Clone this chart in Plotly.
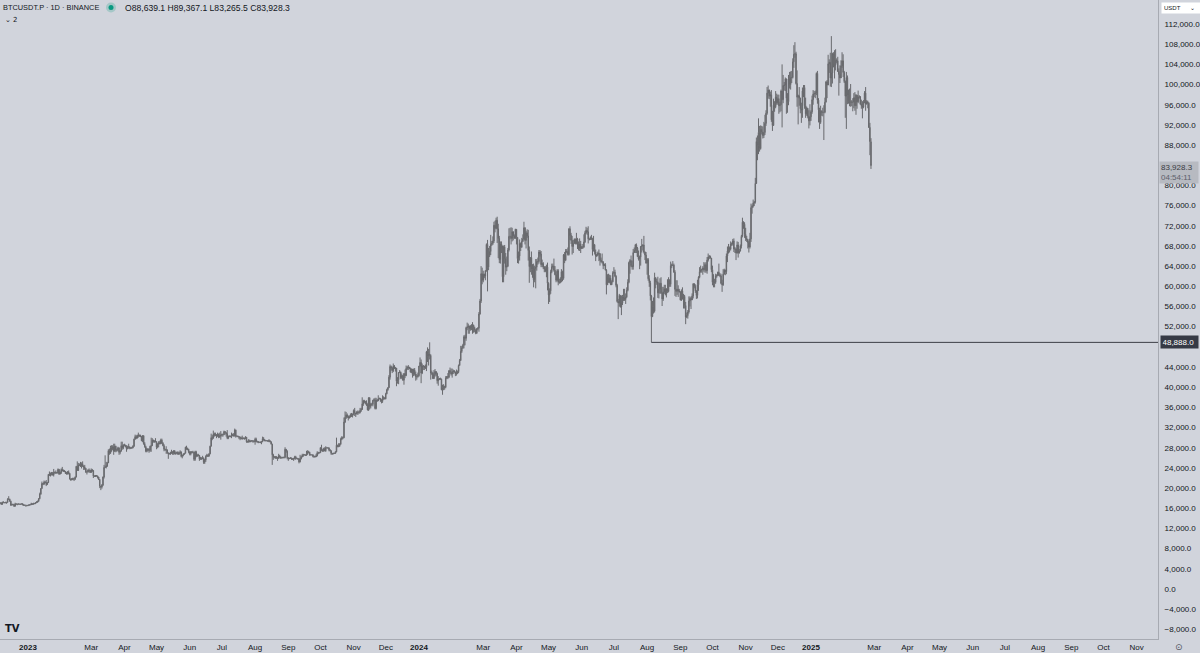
import pandas as pd
import plotly.graph_objects as go

# ---------------- data (BTCUSDT.P, 1D, Binance) — prices in thousands of USDT ----------------
start_date = "2022-12-05"
first_open = 17.1

close_k = [
    # Dec 2022 (from Dec 5)
    17.0,17.1,16.8,17.2,17.1,17.1,17.1,17.2,17.8,17.8,17.4,16.6,16.8,16.7,16.4,16.9,16.8,16.8,16.8,16.8,16.8,16.9,16.7,16.6,16.6,16.6,16.5,
    # Jan 2023
    16.6,16.7,16.7,16.9,16.8,17.0,16.9,17.1,17.2,17.4,17.9,18.8,19.9,20.9,20.8,21.2,21.1,20.7,21.1,22.7,22.8,22.7,22.9,22.6,23.1,23.0,23.1,23.0,23.7,22.8,23.1,
    # Feb 2023
    23.7,23.5,23.4,23.3,22.9,22.8,23.2,22.9,21.8,21.6,21.9,21.8,21.8,22.2,24.3,23.5,24.6,24.6,24.3,24.8,24.4,24.2,23.9,23.2,23.2,23.6,23.5,23.1,
    # Mar 2023
    23.6,23.5,22.4,22.4,22.4,22.4,22.2,21.7,20.4,20.2,20.6,22.2,24.1,24.2,24.4,25.0,27.4,26.9,28.0,27.8,28.2,27.3,28.3,27.5,27.5,28.0,27.1,27.3,28.4,28.0,28.5,
    # Apr 2023
    28.5,28.2,27.8,28.2,28.2,28.0,27.9,28.0,28.3,29.7,30.2,29.9,30.4,30.5,30.3,30.3,29.4,30.4,28.8,28.2,27.3,27.8,27.6,27.5,28.3,28.4,29.5,29.3,29.2,29.2,
    # May 2023
    28.1,28.7,29.0,28.8,29.5,28.9,28.4,27.7,27.6,27.6,27.0,26.8,26.8,26.9,27.2,27.0,27.4,26.8,26.9,27.1,26.7,26.9,27.2,26.3,26.5,26.7,26.9,28.1,27.7,27.7,27.2,
    # Jun 2023
    26.8,27.2,27.1,27.1,25.7,27.2,26.3,26.5,26.5,25.8,25.9,25.9,25.9,25.1,25.6,26.3,26.5,26.3,26.8,28.3,30.0,29.9,30.7,30.5,30.5,30.3,30.7,30.1,30.4,30.5,
    # Jul 2023
    30.6,30.6,31.2,31.0,30.8,29.9,30.3,30.3,30.2,30.4,30.6,30.4,31.5,30.3,30.3,30.2,30.1,29.9,29.8,29.9,29.9,29.8,30.1,29.2,29.2,29.4,29.2,29.3,29.4,29.3,29.2,
    # Aug 2023
    29.7,29.2,29.2,29.1,29.1,29.1,29.2,29.8,29.6,29.4,29.4,29.4,29.3,29.4,29.2,28.7,26.6,26.1,26.2,26.2,26.1,25.9,26.4,26.2,26.0,26.0,26.1,26.1,27.7,27.3,26.0,
    # Sep 2023
    25.8,25.9,26.0,25.8,25.8,25.8,26.2,25.9,25.9,25.8,25.2,25.8,26.2,26.5,26.6,26.6,26.5,26.8,27.2,27.1,26.6,26.6,26.6,26.3,26.3,26.2,26.4,27.0,27.0,27.0,
    # Oct 2023
    28.0,27.5,27.4,27.8,27.4,28.0,28.0,28.0,27.6,27.4,26.9,26.8,26.9,26.9,27.2,28.5,28.4,28.3,28.7,29.7,30.0,30.0,33.1,34.0,34.5,34.2,33.9,34.1,34.5,34.5,34.7,
    # Nov 2023
    35.4,34.9,34.7,35.1,35.0,35.0,35.4,35.6,36.7,37.3,37.1,37.0,36.5,35.5,37.9,36.2,36.6,36.6,37.4,37.5,35.8,37.4,37.3,37.7,37.8,37.5,37.2,37.8,37.9,37.7,
    # Dec 2023
    38.7,39.5,39.9,42.0,44.1,43.8,43.3,44.2,43.7,43.8,41.2,41.5,42.9,43.0,41.9,42.3,41.4,42.7,42.3,43.7,43.9,44.0,43.7,43.0,43.6,42.5,43.4,42.6,42.1,42.1,42.3,
    # Jan 2024
    44.2,44.9,42.8,44.2,44.2,43.9,43.9,47.0,46.1,46.6,46.3,42.8,42.8,41.7,42.5,43.1,42.7,41.3,41.6,41.7,41.6,39.5,39.9,40.1,40.0,41.8,42.1,42.0,43.3,42.9,42.6,
    # Feb 2024
    43.1,43.2,43.0,42.6,42.7,43.1,44.3,45.3,47.1,47.8,48.3,50.0,49.7,51.8,51.9,52.1,51.6,52.1,51.8,52.3,51.8,51.3,50.7,51.6,51.7,54.5,57.1,62.5,61.2,
    # Mar 2024
    62.4,62.0,63.1,68.3,63.8,66.1,66.9,68.3,68.5,69.0,72.1,71.5,73.1,71.4,69.5,65.3,68.4,67.6,61.9,67.8,65.5,63.8,64.0,67.2,69.9,69.9,69.5,70.8,70.0,69.6,71.3,
    # Apr 2024
    69.7,65.5,66.0,68.5,67.8,68.9,69.4,71.6,69.1,70.6,70.0,67.1,63.9,65.7,63.4,63.8,61.3,63.5,63.8,64.9,64.9,66.8,66.4,64.3,64.5,63.8,63.4,63.1,63.8,60.6,
    # May 2024
    58.3,59.1,62.9,63.9,64.0,63.2,62.3,61.2,63.1,60.8,60.8,61.5,62.9,61.6,66.2,65.2,67.0,66.9,66.3,71.4,70.1,69.1,67.9,68.5,69.3,68.5,69.4,68.4,67.6,68.4,67.5,
    # Jun 2024
    67.8,67.8,68.8,70.6,71.1,70.8,69.4,69.3,69.7,69.5,67.3,68.2,66.8,66.0,66.2,66.6,66.5,65.2,64.9,64.8,64.1,64.3,63.2,60.3,61.8,60.8,61.6,60.3,60.9,62.7,
    # Jul 2024
    62.8,62.0,60.2,57.0,56.7,58.2,55.9,56.7,57.9,57.7,57.4,57.9,59.2,60.8,64.7,65.1,64.1,63.9,66.7,67.1,68.2,67.6,65.9,65.4,65.8,67.9,68.0,68.2,66.8,66.2,64.6,
    # Aug 2024
    65.3,61.5,60.7,58.1,54.0,56.0,55.1,61.7,60.9,60.9,58.7,59.4,60.6,58.7,57.5,58.9,59.5,58.4,59.5,59.0,61.2,60.4,64.1,64.2,64.2,62.8,59.4,59.0,59.4,59.1,58.9,
    # Sep 2024
    57.3,59.1,57.5,58.0,56.2,53.9,54.2,54.9,57.1,57.6,57.3,58.1,60.5,60.0,59.1,58.2,60.3,61.8,62.9,63.2,63.3,63.6,63.3,64.3,63.1,65.2,65.8,65.9,65.6,63.3,
    # Oct 2024
    60.8,60.6,60.8,62.1,62.1,62.8,62.2,62.1,60.6,60.3,62.4,63.2,62.9,66.0,67.0,67.6,67.4,68.4,68.4,69.0,67.4,67.4,66.6,68.2,66.6,67.0,68.0,69.9,72.7,72.3,70.3,
    # Nov 2024
    69.5,69.3,68.7,67.8,69.4,75.6,75.9,76.5,76.7,80.4,88.7,87.9,90.5,87.3,91.1,90.6,89.9,90.5,92.3,94.3,98.3,98.9,97.7,98.0,93.0,91.9,95.9,95.6,97.5,96.4,
    # Dec 2024
    97.2,95.8,96.0,98.7,97.0,99.8,99.9,101.1,97.3,96.6,101.1,100.0,101.4,101.4,104.5,106.0,106.1,100.2,97.5,97.8,97.3,95.2,94.9,98.7,99.4,95.8,94.2,95.3,93.7,92.8,93.6,
    # Jan 2025
    94.6,97.0,98.1,98.2,98.3,102.2,96.9,95.0,92.5,94.7,94.5,94.5,94.5,96.5,100.5,99.9,104.1,104.4,101.3,102.3,106.1,103.7,103.9,104.8,104.7,102.6,102.0,101.3,103.7,104.7,102.4,
    # Feb 2025
    100.6,97.7,101.4,97.9,96.6,96.6,96.5,96.5,96.5,97.4,95.8,97.9,96.6,97.5,97.6,96.1,95.8,95.5,96.6,98.3,96.1,96.6,96.3,91.5,88.7,83.9283,
]

high_k = [
    17.4,17.1,17.1,17.3,17.4,17.2,17.3,17.2,18.0,18.4,17.9,17.5,16.8,16.9,16.8,17.1,16.9,16.9,17.0,16.9,16.9,16.9,17.0,16.8,16.7,16.6,16.6,
    16.6,16.8,16.8,17.1,16.9,17.0,17.0,17.2,17.4,17.5,18.0,19.1,20.0,21.3,21.0,21.5,21.4,21.6,21.2,22.8,23.3,23.1,23.2,23.2,23.8,23.3,23.5,23.2,23.9,23.8,23.3,
    23.9,24.2,23.7,23.6,23.4,23.2,23.4,23.5,23.0,21.9,21.9,22.1,22.0,22.3,24.4,25.3,25.0,24.9,25.2,25.1,25.3,24.5,24.6,24.0,23.3,23.7,23.9,23.6,
    23.9,23.8,23.5,22.5,22.6,22.6,22.5,22.0,21.8,20.4,20.8,22.3,24.6,26.5,25.2,25.2,27.7,27.8,28.4,28.5,28.5,28.8,28.8,28.4,27.8,28.2,28.0,27.5,29.2,29.2,28.7,
    28.8,28.6,28.5,28.4,28.8,28.2,28.1,28.2,28.5,29.8,30.6,30.5,30.6,31.0,30.6,30.6,30.3,30.5,30.4,29.1,28.4,27.9,27.8,27.9,28.4,30.0,29.9,29.6,29.5,29.9,
    29.3,28.9,29.3,29.4,29.8,29.8,29.1,28.7,27.8,28.3,27.6,27.0,27.0,27.2,27.6,27.3,27.5,27.5,27.2,27.2,27.3,27.1,27.5,27.2,26.6,26.9,26.9,28.2,28.4,28.0,27.8,
    27.3,27.3,27.3,27.4,27.1,27.4,27.4,26.8,26.8,26.5,26.2,26.1,26.4,26.1,25.8,26.5,26.8,26.7,26.9,28.4,30.8,30.5,31.4,31.0,31.0,30.7,31.0,30.8,31.0,31.3,
    30.8,30.8,31.4,31.3,31.0,31.5,30.4,30.4,30.4,31.0,30.8,30.9,31.8,31.6,30.4,30.4,30.3,30.2,30.2,30.4,30.0,30.0,30.3,30.0,29.4,29.7,29.6,29.5,29.5,29.4,29.5,
    30.0,30.0,29.4,29.3,29.1,29.2,29.3,30.2,30.1,29.7,29.5,29.5,29.5,29.7,29.4,29.2,28.8,26.8,26.3,26.3,26.3,26.1,26.8,26.6,26.3,26.1,26.2,26.2,28.1,27.6,27.5,
    26.1,26.0,26.1,26.0,25.9,26.0,26.4,26.4,26.0,25.9,25.9,26.6,26.4,26.8,26.8,26.7,26.6,27.4,27.5,27.4,27.2,26.7,26.6,26.7,26.4,26.4,26.8,27.3,27.2,27.1,
    28.1,28.6,27.7,28.0,28.1,28.3,28.0,28.1,28.0,27.7,27.5,26.9,27.0,26.9,27.3,30.0,28.6,28.9,28.9,30.0,30.3,30.2,34.0,35.2,35.1,34.8,34.4,34.4,34.8,34.9,34.7,
    35.6,35.9,34.9,35.3,35.4,35.3,35.9,35.9,38.0,37.5,37.5,37.3,37.4,36.8,38.0,38.0,36.9,36.9,37.5,37.8,37.9,37.9,37.7,38.4,37.9,37.7,37.6,38.4,38.2,38.0,
    38.9,39.7,40.0,42.4,44.5,44.3,44.0,44.7,44.4,44.0,43.8,42.0,43.0,43.4,43.1,42.7,42.4,42.8,43.5,44.3,44.2,44.4,44.0,43.9,43.7,43.6,43.7,43.8,43.1,42.6,42.9,
    44.2,45.9,45.5,44.7,44.4,44.2,44.5,47.2,47.9,47.6,48.9,46.5,43.3,43.0,43.4,43.6,43.2,42.9,42.2,41.8,41.9,41.7,40.5,40.6,40.3,42.2,42.2,42.8,43.3,43.9,43.7,
    43.7,43.5,43.4,43.1,43.5,43.3,44.5,45.6,48.2,48.2,48.6,50.3,50.4,52.0,52.8,52.6,52.2,52.3,52.5,52.9,52.4,52.0,51.5,51.7,51.9,54.9,57.5,64.0,63.7,
    63.1,62.5,63.2,68.5,69.2,67.6,68.0,70.2,69.0,69.9,72.8,73.0,73.6,73.8,72.4,70.0,68.9,68.9,68.1,68.1,68.2,66.6,65.9,67.6,71.5,71.6,71.7,71.6,70.9,70.3,71.4,
    71.3,69.7,66.9,69.3,68.7,69.6,70.3,72.8,71.7,71.0,71.3,71.2,67.9,65.8,66.9,64.4,64.5,64.1,65.4,65.4,65.7,67.2,67.2,67.0,65.3,64.8,64.0,64.0,64.3,64.7,
    60.8,59.6,63.3,64.5,64.5,65.5,64.0,62.9,63.4,63.4,61.5,61.8,63.4,63.1,66.4,66.8,67.4,67.4,67.7,71.5,71.9,70.6,70.0,69.2,69.5,69.5,70.6,69.6,68.9,69.5,69.0,
    68.0,68.4,70.3,71.0,71.8,71.6,71.9,69.5,69.9,70.2,69.6,70.0,68.4,67.3,66.4,66.9,67.3,66.5,65.7,66.5,65.0,64.5,64.6,63.4,62.4,62.5,62.3,62.2,61.2,63.0,
    63.8,63.3,62.2,60.5,57.5,58.5,58.2,58.2,58.3,59.5,59.5,58.6,59.8,61.4,64.9,65.4,66.1,65.1,67.4,67.7,68.4,68.5,67.8,67.1,66.1,68.0,69.4,68.3,70.0,66.9,66.8,
    65.6,65.6,62.2,61.1,58.3,57.1,57.8,62.7,61.8,61.5,61.9,60.7,61.6,61.8,59.9,59.9,60.3,60.3,59.6,61.4,61.8,61.4,64.9,64.5,65.0,64.5,63.2,61.2,61.2,60.2,59.5,
    59.0,59.4,59.8,58.5,58.3,56.9,54.8,55.3,58.0,58.0,57.9,58.6,60.6,60.6,60.4,59.2,61.3,62.0,63.8,64.1,63.5,64.0,64.8,64.7,64.8,65.8,66.5,66.2,66.1,65.6,
    64.1,62.4,61.5,62.5,62.4,62.9,64.5,62.6,62.5,61.3,63.4,63.5,63.3,66.5,67.9,68.4,67.9,68.9,68.7,69.4,69.5,67.8,67.5,68.9,68.8,67.4,68.3,70.2,73.6,72.9,72.7,
    71.6,70.0,69.4,69.0,70.6,76.4,76.2,77.2,76.9,81.5,89.5,89.9,93.3,91.8,91.9,91.8,91.7,92.6,94.0,94.9,99.5,99.8,99.0,98.6,98.9,94.8,97.2,96.7,98.7,98.2,
    98.0,98.0,96.6,99.0,104.0,101.9,100.5,101.4,101.2,98.3,101.9,102.5,102.6,102.7,105.2,107.8,108.4,106.5,102.8,98.0,99.5,97.4,96.4,99.4,99.9,99.9,97.4,95.6,95.2,94.9,96.1,
    94.9,97.8,98.9,98.7,98.8,102.4,102.7,97.3,95.4,95.8,94.9,95.4,95.9,97.4,100.7,100.9,105.9,105.0,106.3,109.6,106.3,106.4,106.8,107.0,105.2,105.5,103.2,103.8,104.8,106.4,106.0,
    102.7,100.8,102.5,101.8,99.0,99.2,100.1,96.9,97.3,98.3,98.5,98.1,97.2,98.8,97.9,97.7,97.0,96.7,96.9,98.7,99.5,96.9,96.8,96.5,92.4,89.3671,
]

low_k = [
    16.9,16.9,16.7,16.7,17.1,17.1,17.1,16.9,17.1,17.7,17.3,16.5,16.6,16.7,16.3,16.4,16.8,16.6,16.8,16.8,16.7,16.8,16.6,16.5,16.5,16.3,16.5,
    16.5,16.5,16.6,16.7,16.7,16.7,16.9,16.9,17.1,17.1,17.3,17.8,18.7,19.9,20.6,20.6,21.0,20.4,20.7,21.0,22.4,22.3,22.5,22.5,22.3,22.9,22.8,22.9,22.9,22.6,22.7,
    22.8,23.3,23.2,23.2,22.8,22.7,22.7,22.7,21.7,21.5,21.6,21.6,21.4,21.6,22.1,23.4,23.4,24.4,24.2,23.9,24.2,23.6,23.6,23.0,22.7,23.1,23.1,23.0,
    23.2,23.2,22.0,22.2,22.2,22.3,21.9,21.6,20.0,19.6,19.9,20.4,21.9,24.0,23.9,24.2,25.0,26.6,26.8,27.2,27.5,26.6,27.2,27.1,27.2,27.4,26.6,26.7,27.3,27.6,27.7,
    28.3,28.1,27.2,27.7,27.8,27.7,27.8,27.9,27.9,28.2,29.6,29.7,29.9,30.0,30.2,30.1,29.3,29.1,28.6,28.0,27.1,27.1,27.3,27.0,27.2,27.2,28.4,29.0,29.0,29.1,
    27.7,27.9,28.1,28.7,28.7,28.8,28.3,27.3,27.4,26.8,26.8,25.8,26.7,26.6,26.8,26.6,26.6,26.7,26.6,26.8,26.6,26.6,26.8,26.1,25.9,26.3,26.6,26.9,27.6,27.5,26.9,
    26.5,26.5,26.9,26.9,25.4,25.4,26.1,26.3,26.3,25.4,25.6,25.6,25.7,24.8,24.8,25.2,26.2,26.2,26.3,26.7,28.3,29.5,29.8,30.2,30.3,29.9,30.2,29.9,30.0,29.6,
    30.2,30.2,30.5,30.6,30.2,29.7,29.7,30.1,30.1,29.9,30.3,30.2,30.2,30.0,30.2,30.1,29.7,29.5,29.7,29.6,29.7,29.6,29.7,29.0,29.0,29.0,29.1,29.1,29.3,29.0,29.1,
    28.6,29.1,29.0,28.9,29.0,28.9,28.7,29.1,29.4,29.3,29.3,29.3,29.2,29.1,29.1,28.7,24.6,25.6,25.9,25.8,25.8,25.4,25.8,25.9,25.8,25.9,25.9,25.9,25.9,27.0,25.7,
    25.4,25.8,25.8,25.6,25.6,25.4,25.7,25.6,25.8,25.6,24.9,25.1,25.7,26.1,26.2,26.5,26.4,26.4,26.6,26.9,26.4,26.5,26.5,26.1,26.0,26.1,26.2,26.3,26.7,26.9,
    27.0,27.3,27.2,27.2,27.3,27.2,27.9,27.8,27.3,27.3,26.6,26.6,26.7,26.8,26.8,27.1,28.1,28.1,28.2,28.6,29.5,29.7,29.9,32.9,33.7,33.9,33.4,33.8,34.0,34.1,34.0,
    34.4,34.3,34.1,34.6,34.5,34.7,34.8,35.1,35.5,36.3,36.8,36.6,36.3,35.4,35.3,35.6,35.8,36.3,36.2,37.2,35.6,35.6,37.1,37.3,37.6,37.1,36.8,36.9,37.5,37.6,
    37.6,38.6,39.3,39.9,41.5,43.3,42.8,43.0,43.6,43.1,40.2,40.7,40.6,42.8,41.6,41.6,41.3,40.5,41.8,42.2,43.4,43.4,43.6,42.9,42.8,41.9,42.2,42.3,41.3,41.5,41.9,
    42.1,44.1,40.8,42.6,43.4,43.4,43.6,43.2,45.0,44.3,45.5,41.5,42.4,41.7,41.7,42.1,42.2,40.7,40.3,41.4,41.5,39.4,38.5,39.4,39.5,39.8,41.6,41.6,41.8,42.7,42.3,
    41.9,42.6,42.9,42.2,42.3,42.6,42.8,44.3,45.2,46.8,47.6,47.7,48.3,49.2,51.3,50.6,50.6,51.2,51.3,50.6,50.8,50.9,50.5,50.6,51.3,51.0,54.4,56.7,60.4,
    60.8,61.6,61.2,62.9,59.0,63.2,65.8,66.2,68.0,68.2,68.6,70.7,71.3,68.6,65.6,64.6,64.5,66.6,60.8,60.8,64.5,62.3,63.0,63.8,66.9,69.3,68.3,68.9,69.1,69.4,69.4,
    68.3,64.6,64.5,65.1,67.0,67.6,68.8,69.3,68.3,67.5,69.6,65.1,60.7,62.8,62.3,61.7,59.8,60.8,59.6,63.1,64.3,64.5,65.9,63.8,63.8,63.4,62.8,62.8,61.8,59.2,
    56.5,56.9,58.5,62.6,63.5,62.9,62.2,60.8,61.0,60.2,60.5,60.6,60.8,61.0,61.3,64.6,65.0,66.6,66.1,66.1,69.2,68.4,66.3,66.6,68.6,68.3,68.3,67.4,67.1,67.0,66.6,
    67.4,67.4,67.6,68.6,70.4,70.2,68.5,69.1,69.2,69.2,66.1,66.9,66.3,65.0,65.8,66.0,65.0,64.1,64.7,64.5,63.4,64.1,63.2,58.4,60.6,60.7,60.6,60.3,60.4,60.8,
    62.5,61.8,59.8,56.8,53.5,56.0,55.8,54.3,56.3,57.1,57.1,56.5,57.7,59.0,60.6,62.5,63.8,63.3,63.3,66.6,66.6,66.6,65.8,65.1,63.4,64.1,66.7,67.1,66.5,65.2,64.5,
    62.3,61.1,59.9,57.2,48.888,53.9,54.6,54.8,59.6,60.3,57.7,57.6,58.5,58.5,56.1,57.1,58.5,58.2,57.8,58.7,58.8,59.9,59.9,63.6,64.0,62.7,58.1,57.9,58.3,57.9,58.8,
    57.2,57.1,57.4,55.6,55.6,52.5,53.7,53.6,54.6,56.0,55.5,57.3,57.6,59.6,58.7,57.5,57.6,59.1,61.6,62.7,62.7,62.3,62.9,62.7,62.7,62.5,64.9,65.4,65.5,62.8,
    60.2,59.8,59.8,60.5,61.7,62.0,62.1,61.8,60.4,58.9,60.1,62.4,62.2,62.4,64.8,66.5,66.7,67.1,68.0,68.1,66.8,66.6,65.2,66.5,65.7,66.5,66.9,67.5,69.7,71.4,69.6,
    69.0,68.8,67.5,66.7,67.5,68.8,74.4,75.6,75.9,76.4,80.3,85.0,86.2,86.7,87.1,90.1,89.3,89.4,90.0,91.8,94.0,97.2,97.1,95.6,92.6,90.8,91.8,94.6,95.3,96.0,
    96.0,94.2,94.5,94.7,91.5,96.3,98.8,98.7,94.2,94.4,95.9,99.2,99.0,100.3,101.2,103.3,105.3,100.0,95.6,92.1,95.8,94.3,92.4,93.4,97.5,95.2,93.4,93.8,93.3,91.3,91.9,
    92.8,94.2,96.0,97.5,97.3,97.9,96.2,92.5,91.2,92.2,93.8,93.7,89.0,94.3,96.5,97.3,99.9,102.3,99.6,99.5,100.2,103.4,101.2,102.8,104.2,102.5,97.8,100.3,101.3,103.3,101.5,
    100.3,93.4,91.2,96.1,96.2,95.7,95.6,95.7,94.7,95.3,94.8,94.0,95.2,96.3,97.2,96.0,95.2,93.3,95.3,96.3,94.8,96.1,95.3,91.4,86.0,83.2655,
]

symbol_title = "BTCUSDT.P · 1D · BINANCE"
ohlc_text = "O88,639.1 H89,367.1 L83,265.5 C83,928.3"
countdown = "04:54:11"
last_open = 88639.1
last_price = 83928.3
key_level = 48888.0
key_date = "2024-08-05"
quote_ccy = "USDT"

y_ticks = list(range(-8000, 112001, 4000))
month_abbr = ["Jan", "Feb", "Mar", "Apr", "May", "Jun", "Jul", "Aug", "Sep", "Oct", "Nov", "Dec"]

# ---------------- prepare ----------------
n = len(close_k)
dates = pd.date_range(start_date, periods=n, freq="D")
open_k = [first_open] + close_k[:-1]
opens = [v * 1000 for v in open_k]
opens[-1] = last_open
closes = [v * 1000 for v in close_k]
highs = [max(h * 1000, o, c) for h, o, c in zip(high_k, opens, closes)]
lows = [min(l * 1000, o, c) for l, o, c in zip(low_k, opens, closes)]

BG = "#d1d4dc"
CANDLE = "#68696d"
TXT = "#131722"
FONT = "Liberation Sans"

# axis calibration (pixels per day / per price unit measured on the reference)
PLOT_W, PLOT_H = 1158, 639
px_per_day = 783 / 731
x_left = pd.Timestamp("2023-01-01") - pd.Timedelta(days=28 / px_per_day)
x_right = x_left + pd.Timedelta(days=PLOT_W / px_per_day)
y_per_px = 112000 / 565
y_top = 112000 + 24 * y_per_px
y_bot = 0 - (PLOT_H - 589) * y_per_px

# x ticks: month starts, year label in January, February skipped
tickvals, ticktext = [], []
for d in pd.date_range("2023-01-01", "2025-11-01", freq="MS"):
    if d.month == 2:
        continue
    tickvals.append(d)
    ticktext.append(f"<b>{d.year}</b>" if d.month == 1 else month_abbr[d.month - 1])


def price_label(v):
    return ("−" if v < 0 else "") + f"{abs(v):,.1f}"


# tick labels hidden behind the price labels (as in the reference)
ytext = ["" if abs(v - last_price) < 2500 or abs(v - key_level) < 2500 else price_label(v) for v in y_ticks]

fig = go.Figure()
fig.add_trace(go.Candlestick(
    x=dates, open=opens, high=highs, low=lows, close=closes,
    increasing=dict(line=dict(color=CANDLE, width=1), fillcolor=CANDLE),
    decreasing=dict(line=dict(color=CANDLE, width=1), fillcolor=CANDLE),
    whiskerwidth=0, hoverinfo="skip", showlegend=False,
))
fig.add_trace(go.Scatter(
    x=[pd.Timestamp(key_date), x_right], y=[key_level, key_level],
    mode="lines", line=dict(color="#3d3f47", width=1), hoverinfo="skip", showlegend=False,
))


def px_x(px):
    return px / PLOT_W


def px_y(py):
    return 1 - py / PLOT_H


ann = []
ann.append(dict(xref="paper", yref="paper", x=px_x(1), y=px_y(8), xanchor="left", yanchor="middle",
                text=symbol_title, showarrow=False, font=dict(family=FONT, size=7.4, color=TXT)))
ann.append(dict(xref="paper", yref="paper", x=px_x(123), y=px_y(8), xanchor="left", yanchor="middle",
                text=ohlc_text, showarrow=False, font=dict(family=FONT, size=8.6, color=TXT)))
ann.append(dict(xref="paper", yref="paper", x=px_x(3), y=px_y(20), xanchor="left", yanchor="middle",
                text="⌄ 2", showarrow=False, font=dict(family="DejaVu Sans", size=7, color=TXT)))
# USDT selector
ann.append(dict(xref="paper", yref="paper", x=px_x(1161), y=px_y(8.5), xanchor="left", yanchor="middle",
                text=quote_ccy + "&nbsp;&nbsp;&nbsp;&nbsp;&nbsp;&nbsp;⌄", showarrow=False, bgcolor="#ffffff",
                borderpad=2, width=34, align="left", font=dict(family=FONT, size=6, color=TXT)))
# last price + countdown
ann.append(dict(xref="paper", yref="y", x=px_x(1159), y=last_price, xanchor="left", yanchor="top", yshift=5,
                text=f"{last_price:,.1f}<br><span style='color:#5d606b'>{countdown}</span>",
                showarrow=False, bgcolor="#b7bac1", borderpad=1, width=36, align="left",
                font=dict(family=FONT, size=8, color="#3a3c44")))
# key level label
ann.append(dict(xref="paper", yref="y", x=px_x(1160), y=key_level, xanchor="left", yanchor="middle",
                text=f"{key_level:,.1f}", showarrow=False, bgcolor="#363a45", borderpad=1.5, width=34,
                align="left", font=dict(family=FONT, size=8, color="#ffffff")))
# TradingView mark and settings icon
ann.append(dict(xref="paper", yref="paper", x=px_x(3), y=px_y(628), xanchor="left", yanchor="middle",
                text="<b>TV</b>", showarrow=False, font=dict(family="DejaVu Sans", size=10, color=TXT)))
ann.append(dict(xref="paper", yref="paper", x=px_x(1179), y=px_y(647), xanchor="center", yanchor="middle",
                text="⊙", showarrow=False, font=dict(family="DejaVu Sans", size=9, color="#50535e")))

# live-status dot with halo (pixel-sized shapes)
shapes = [
    dict(type="circle", xref="paper", yref="paper", xsizemode="pixel", ysizemode="pixel",
         xanchor=px_x(111), yanchor=px_y(7.5), x0=-5, x1=5, y0=-5, y1=5,
         fillcolor="rgba(8,153,129,0.22)", line=dict(width=0), layer="above"),
    dict(type="circle", xref="paper", yref="paper", xsizemode="pixel", ysizemode="pixel",
         xanchor=px_x(111), yanchor=px_y(7.5), x0=-2.5, x1=2.5, y0=-2.5, y1=2.5,
         fillcolor="#089981", line=dict(width=0), layer="above"),
]

fig.update_layout(
    width=1200, height=653,
    margin=dict(l=0, r=42, t=0, b=14),
    paper_bgcolor=BG, plot_bgcolor=BG,
    showlegend=False,
    annotations=ann,
    shapes=shapes,
    xaxis=dict(
        type="date", range=[x_left, x_right], rangeslider=dict(visible=False),
        tickvals=tickvals, ticktext=ticktext, showgrid=False, zeroline=False,
        showline=True, linecolor="#a7aab2", linewidth=1, ticks="",
        tickfont=dict(family=FONT, size=8, color=TXT), ticklabelstandoff=0, fixedrange=True,
    ),
    yaxis=dict(
        side="right", range=[y_bot, y_top], tickvals=y_ticks, ticktext=ytext,
        showgrid=False, zeroline=False, showline=True, linecolor="#a7aab2", linewidth=1,
        ticks="", tickfont=dict(family=FONT, size=8, color=TXT), ticklabelstandoff=4, fixedrange=True,
    ),
)

fig.write_html("out.html", config={"displayModeBar": False},
               post_script="document.body.style.margin='0px';document.body.style.overflow='hidden';")
